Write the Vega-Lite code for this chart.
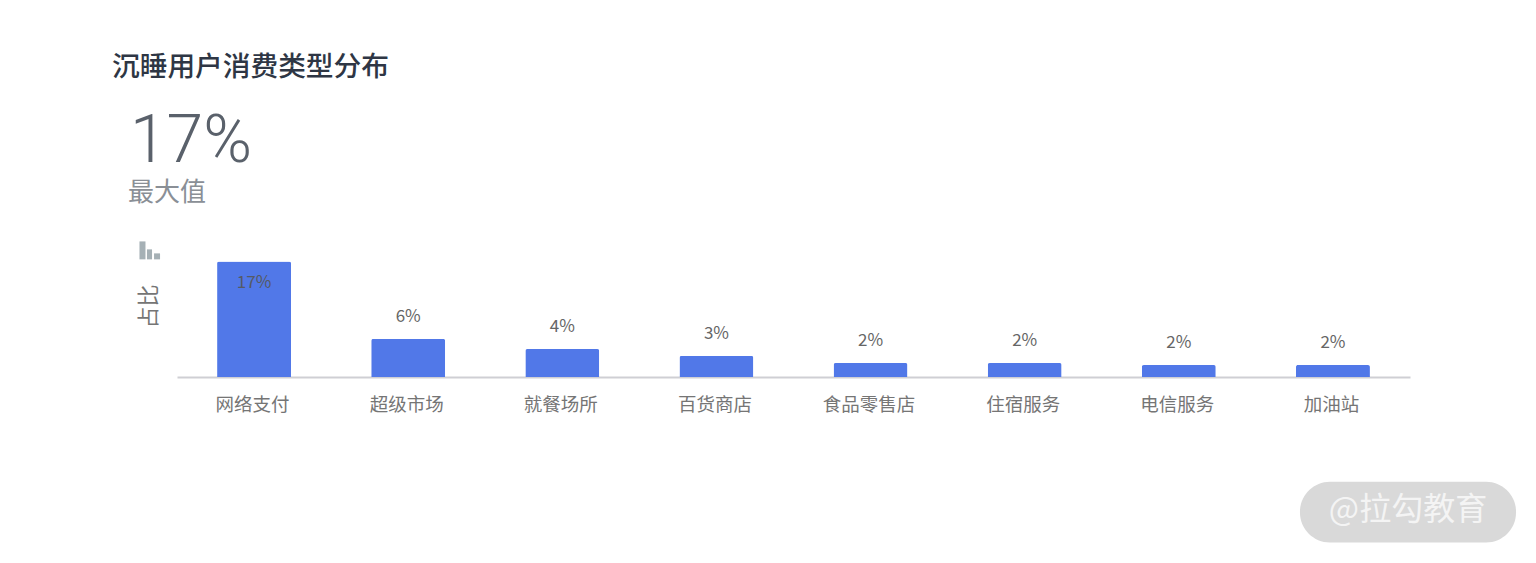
{
  "$schema": "https://vega.github.io/schema/vega-lite/v6.json",
  "description": "沉睡用户消费类型分布",
  "width": 1233,
  "height": 136,
  "autosize": "none",
  "padding": {"left": 177, "top": 241, "right": 126, "bottom": 186},
  "background": "white",
  "title": {
    "text": "沉睡用户消费类型分布",
    "anchor": "start",
    "frame": "group",
    "dx": -65,
    "offset": 27,
    "font": "Noto Sans CJK SC",
    "fontSize": 27.7,
    "fontWeight": 500,
    "color": "#2e3644"
  },
  "config": {"view": {"stroke": null}, "font": "Noto Sans CJK SC"},
  "datasets": {
    "shares": [
      {"category": "网络支付", "share": 17, "label": "17%"},
      {"category": "超级市场", "share": 5.6, "label": "6%"},
      {"category": "就餐场所", "share": 4.1, "label": "4%"},
      {"category": "百货商店", "share": 3.1, "label": "3%"},
      {"category": "食品零售店", "share": 2.05, "label": "2%"},
      {"category": "住宿服务", "share": 2.05, "label": "2%"},
      {"category": "电信服务", "share": 1.76, "label": "2%"},
      {"category": "加油站", "share": 1.76, "label": "2%"}
    ]
  },
  "resolve": {"scale": {"x": "independent"}},
  "layer": [
    {
      "data": {"name": "shares"},
      "encoding": {
        "x": {
          "field": "category",
          "type": "nominal",
          "sort": null,
          "scale": {"paddingInner": 0.52, "paddingOuter": 0.26},
          "axis": {
            "title": null,
            "labelAngle": 0,
            "labelFontSize": 18.5,
            "labelColor": "#757575",
            "labelPadding": 18,
            "labelOffset": -1.5,
            "ticks": false,
            "domainColor": "#cfcfd4",
            "domainWidth": 2
          }
        },
        "y": {
          "field": "share",
          "type": "quantitative",
          "scale": {"domain": [0, 20]},
          "axis": {
            "title": "占比",
            "titleFontSize": 22,
            "titleFontWeight": "normal",
            "titleColor": "#757575",
            "titlePadding": 17,
            "titleY": 65,
            "labels": false,
            "ticks": false,
            "domain": false,
            "grid": false
          }
        }
      },
      "layer": [
        {
          "mark": {"type": "bar", "color": "#5178e8", "cornerRadiusTopLeft": 2, "cornerRadiusTopRight": 2}
        },
        {
          "transform": [{"filter": "datum.share < 10"}],
          "mark": {"type": "text", "dy": -22, "fontSize": 17, "color": "#666666"},
          "encoding": {"text": {"field": "label"}}
        },
        {
          "transform": [{"filter": "datum.share >= 10"}],
          "mark": {"type": "text", "dy": 22, "fontSize": 17, "color": "#555a66"},
          "encoding": {"text": {"field": "label"}}
        }
      ]
    },
    {
      "layer": [
        {
          "data": {"values": [{"label": "17%"}]},
          "mark": {"type": "text", "align": "left", "baseline": "alphabetic", "font": "Roboto", "fontSize": 66, "fontWeight": 300, "color": "#5a616b"},
          "encoding": {
            "x": {"datum": -0.305, "type": "quantitative", "scale": {"domain": [0, 8]}, "axis": null},
            "y": {"datum": 31.67, "type": "quantitative"},
            "text": {"field": "label"}
          }
        },
        {
          "data": {"values": [{"label": "最大值"}]},
          "mark": {"type": "text", "align": "left", "baseline": "middle", "fontSize": 26, "color": "#8a8f96"},
          "encoding": {
            "x": {"datum": -0.318, "type": "quantitative", "scale": {"domain": [0, 8]}, "axis": null},
            "y": {"datum": 27.1, "type": "quantitative"},
            "text": {"field": "label"}
          }
        },
        {
          "data": {"values": [{"glyph": "icon"}]},
          "mark": {"type": "rect", "color": "#a5b0b5"},
          "encoding": {
            "x": {"datum": -0.2435, "type": "quantitative", "scale": {"domain": [0, 8]}, "axis": null},
            "x2": {"datum": -0.2045},
            "y": {"datum": 19.94, "type": "quantitative"},
            "y2": {"datum": 17.3}
          }
        },
        {
          "data": {"values": [{"glyph": "icon"}]},
          "mark": {"type": "rect", "color": "#a5b0b5"},
          "encoding": {
            "x": {"datum": -0.195, "type": "quantitative", "scale": {"domain": [0, 8]}, "axis": null},
            "x2": {"datum": -0.162},
            "y": {"datum": 18.77, "type": "quantitative"},
            "y2": {"datum": 17.3}
          }
        },
        {
          "data": {"values": [{"glyph": "icon"}]},
          "mark": {"type": "rect", "color": "#a5b0b5"},
          "encoding": {
            "x": {"datum": -0.149, "type": "quantitative", "scale": {"domain": [0, 8]}, "axis": null},
            "x2": {"datum": -0.11},
            "y": {"datum": 18.18, "type": "quantitative"},
            "y2": {"datum": 17.3}
          }
        },
        {
          "data": {"values": [{"glyph": "badge"}]},
          "mark": {"type": "rect", "color": "#d9d9d9", "cornerRadius": 30},
          "encoding": {
            "x": {"datum": 7.286, "type": "quantitative", "scale": {"domain": [0, 8]}, "axis": null},
            "x2": {"datum": 8.688},
            "y": {"datum": -15.4, "type": "quantitative"},
            "y2": {"datum": -24.35}
          }
        },
        {
          "data": {"values": [{"label": "@拉勾教育"}]},
          "mark": {"type": "text", "align": "center", "baseline": "middle", "fontSize": 32, "color": "#f4f4f4"},
          "encoding": {
            "x": {"datum": 7.987, "type": "quantitative", "scale": {"domain": [0, 8]}, "axis": null},
            "y": {"datum": -19.6, "type": "quantitative"},
            "text": {"field": "label"}
          }
        }
      ]
    }
  ]
}
